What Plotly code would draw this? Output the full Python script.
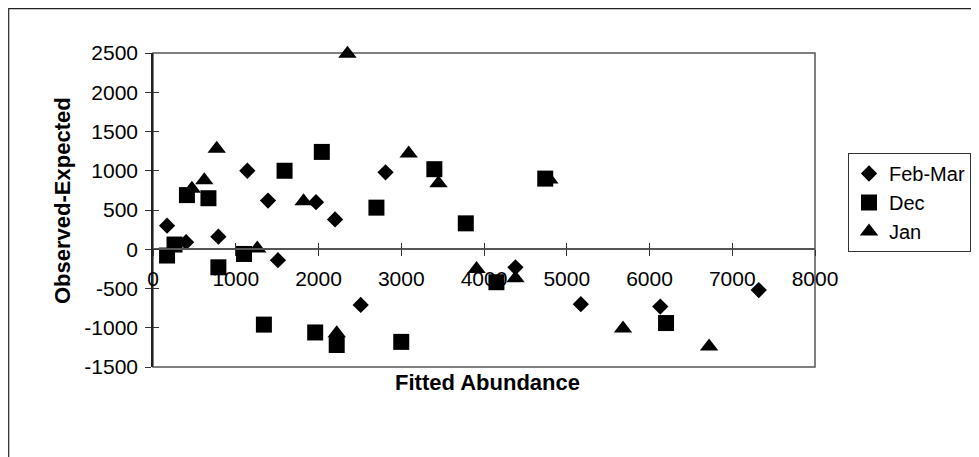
import plotly.graph_objects as go

# ---- data ----
feb_x = [170, 400, 790, 1140, 1390, 1510, 1970, 2200, 2510, 2810, 4380, 5170, 6130, 7320]
feb_y = [300, 90, 160, 1000, 620, -140, 600, 380, -710, 980, -230, -700, -730, -520]

dec_x = [170, 260, 410, 670, 790, 1100, 1340, 1590, 1960, 2040, 2220, 2700, 3000, 3400, 3780, 4150, 4740, 6200]
dec_y = [-80, 60, 690, 650, -230, -60, -960, 1000, -1060, 1240, -1220, 530, -1180, 1020, 330, -420, 900, -940]

jan_x = [470, 620, 770, 1260, 1820, 2220, 2350, 3090, 3450, 3910, 4380, 4790, 5680, 6720]
jan_y = [770, 880, 1280, 10, 610, -1070, 2490, 1220, 840, -250, -370, 890, -1010, -1240]

x_ticks = [0, 1000, 2000, 3000, 4000, 5000, 6000, 7000, 8000]
x_ticktext = ["0", "1000", "2000", "3000", "4000", "5000", "6000", "7000", "8000"]
y_ticks = [-1500, -1000, -500, 0, 500, 1000, 1500, 2000, 2500]
y_ticktext = ["-1500", "-1000", "-500", "0", "500", "1000", "1500", "2000", "2500"]

FONT = "Liberation Sans, Arial, sans-serif"

fig = go.Figure()
fig.add_trace(go.Scatter(x=feb_x, y=feb_y, mode="markers", name="Feb-Mar", cliponaxis=False,
                         marker=dict(symbol="diamond", size=12.5, color="black", line=dict(width=0))))
fig.add_trace(go.Scatter(x=dec_x, y=dec_y, mode="markers", name="Dec", cliponaxis=False,
                         marker=dict(symbol="square", size=16, color="black", line=dict(width=0))))
fig.add_trace(go.Scatter(x=jan_x, y=jan_y, mode="markers", name="Jan", cliponaxis=False,
                         marker=dict(symbol="triangle-up", size=16, color="black", line=dict(width=0))))

OFF = 8  # default page body margin
W, H = 979 - OFF, 457 - OFF
# plot area in page pixels: left 153, right 815, top 53, bottom 367
L, T = 153 - OFF, 53 - OFF
R, B = W - (815 - OFF), H - (367 - OFF)
pw, ph = W - L - R, H - T - B

def px(xp):
    return (xp - OFF - L) / pw

def py(yp):
    return (H - B - (yp - OFF)) / ph

zero_pos = (0 - y_ticks[0]) / (y_ticks[-1] - y_ticks[0])

fig.update_layout(
    width=W, height=H,
    margin=dict(l=L, r=R, t=T, b=B, autoexpand=False),
    paper_bgcolor="white", plot_bgcolor="white",
    font=dict(family=FONT, size=21, color="black"),
    showlegend=True,
    legend=dict(x=px(848), y=py(153), xanchor="left", yanchor="top",
                bordercolor="#333", borderwidth=1, bgcolor="white",
                font=dict(size=20), itemwidth=30, tracegroupgap=0),
    xaxis=dict(range=[x_ticks[0], x_ticks[-1]], tickvals=x_ticks, ticktext=x_ticktext,
               anchor="free", position=zero_pos,
               showgrid=False, zeroline=False, showline=True, linecolor="#555", linewidth=1.5,
               ticks="outside", ticklen=6, tickcolor="#333", tickwidth=1,
               ticklabelstandoff=5, tickfont=dict(size=21)),
    xaxis2=dict(range=[x_ticks[0], x_ticks[-1]], tickvals=x_ticks, overlaying="x", anchor="free",
                position=zero_pos, showgrid=False, zeroline=False, showline=False,
                ticks="inside", ticklen=6, tickcolor="#333", tickwidth=1, showticklabels=False),
    yaxis=dict(range=[y_ticks[0], y_ticks[-1]], tickvals=y_ticks, ticktext=y_ticktext,
               showgrid=False, zeroline=False,
               showline=True, linecolor="#222", linewidth=1.5, ticks="outside", ticklen=6,
               tickcolor="#333", tickwidth=1, ticklabelstandoff=3, tickfont=dict(size=21)),
    yaxis2=dict(range=[y_ticks[0], y_ticks[-1]], tickvals=y_ticks, overlaying="y", side="left",
                showgrid=False, zeroline=False, showline=False, ticks="inside", ticklen=6,
                tickcolor="#333", tickwidth=1, showticklabels=False),
    shapes=[
        # plot-area border
        dict(type="rect", xref="paper", yref="paper", x0=0, x1=1, y0=0, y1=1,
             line=dict(color="#555", width=1.5, dash="solid"), layer="below"),
        # outer chart frame (extends past right/bottom edge of the image)
        dict(type="rect", xref="paper", yref="paper", x0=px(8.7), x1=px(1000), y0=py(480), y1=py(8.7),
             line=dict(color="#222", width=1.2), layer="below"),
    ],
    annotations=[
        dict(text="<b>Fitted Abundance</b>", xref="paper", yref="paper", x=px(487), y=py(382),
             showarrow=False, xanchor="center", yanchor="middle", font=dict(size=22)),
        dict(text="<b>Observed-Expected</b>", xref="paper", yref="paper", x=px(62), y=py(201),
             showarrow=False, xanchor="center", yanchor="middle", textangle=-90, font=dict(size=22)),
    ],
)

# invisible trace to activate the overlay axes (ticks crossing the axis lines)
fig.add_trace(go.Scatter(x=[None], y=[None], xaxis="x2", yaxis="y2", showlegend=False, hoverinfo="skip"))

fig.write_html("out.html")
